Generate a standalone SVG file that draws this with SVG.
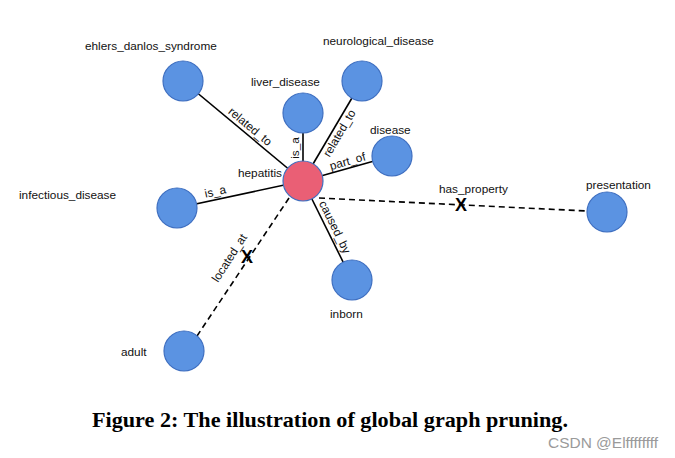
<svg xmlns="http://www.w3.org/2000/svg" width="675" height="458" viewBox="0 0 675 458">
<style>
.n{fill:#5b93e2;stroke:#3f6fc0;stroke-width:1.2}
.h{fill:#ea5f75;stroke:#3f6fc0;stroke-width:1.2}
.t{font-family:"Liberation Sans",Arial,sans-serif;font-size:11.8px;fill:#111}
.e{stroke:#000;stroke-width:1.6;fill:none}
.d{stroke:#000;stroke-width:1.6;fill:none;stroke-dasharray:6,4}
.x{font-family:"Liberation Sans",Arial,sans-serif;font-size:18px;font-weight:bold;fill:#000;text-anchor:middle}
</style>
<rect width="675" height="458" fill="#fff"/>
<g id="connectors">
<line class="e" x1="183" y1="81" x2="303" y2="181"/>
<line class="e" x1="303" y1="113" x2="303" y2="181"/>
<line class="e" x1="362" y1="81" x2="303" y2="181"/>
<line class="e" x1="392" y1="156" x2="303" y2="181"/>
<line class="e" x1="177" y1="208" x2="303" y2="181"/>
<line class="e" x1="303" y1="181" x2="352" y2="280"/>
<line class="d" x1="319" y1="198" x2="587" y2="211"/>
<line class="d" x1="289" y1="198" x2="197" y2="336"/>
<text class="t" text-anchor="middle" transform="translate(245,132.7) rotate(39.8)" y="-4">related_to</text>
<text class="t" text-anchor="middle" transform="translate(303,148) rotate(-90)" y="-4">is_a</text>
<text class="t" text-anchor="middle" transform="translate(333.3,129.6) rotate(-59.5)" y="11">related_to</text>
<text class="t" text-anchor="middle" transform="translate(349.5,168) rotate(-16)" y="-3">part_of</text>
<text class="t" text-anchor="middle" transform="translate(217,199.4) rotate(-12)" y="-4">is_a</text>
<text class="t" text-anchor="middle" transform="translate(327.8,230.6) rotate(63.9)" y="-4">caused_by</text>
<text class="t" text-anchor="middle" transform="translate(242,266) rotate(-57.4)" y="-11">located_at</text>
<text class="t" x="439" y="193">has_property</text>
<text class="x" x="461" y="211">X</text>
<text class="x" x="247" y="263">X</text>
</g>
<g id="ehlers_danlos_syndrome"><circle class="n" cx="183" cy="81" r="20"/><text class="t" x="85" y="50">ehlers_danlos_syndrome</text></g>
<g id="liver_disease"><circle class="n" cx="303" cy="113" r="20"/><text class="t" x="251" y="86">liver_disease</text></g>
<g id="neurological_disease"><circle class="n" cx="362" cy="81" r="20"/><text class="t" x="323" y="45">neurological_disease</text></g>
<g id="disease"><circle class="n" cx="392" cy="156" r="20"/><text class="t" x="370" y="134">disease</text></g>
<g id="infectious_disease"><circle class="n" cx="177" cy="208" r="20"/><text class="t" x="19" y="199">infectious_disease</text></g>
<g id="presentation"><circle class="n" cx="607" cy="212" r="20"/><text class="t" x="586" y="189">presentation</text></g>
<g id="inborn"><circle class="n" cx="352" cy="280" r="20"/><text class="t" x="330" y="318">inborn</text></g>
<g id="adult"><circle class="n" cx="184" cy="351" r="20"/><text class="t" x="121" y="356">adult</text></g>
<g id="hepatitis"><circle class="h" cx="303" cy="181" r="20"/><text class="t" x="238" y="177">hepatitis</text></g>
<text x="92" y="427" font-family="'Liberation Serif',serif" font-weight="bold" font-size="21" textLength="476" lengthAdjust="spacingAndGlyphs" fill="#000">Figure 2: The illustration of global graph pruning.</text>
<text x="548" y="448" font-family="'Liberation Sans',Arial,sans-serif" font-size="14" textLength="110" lengthAdjust="spacingAndGlyphs" fill="#9a9a9a">CSDN @Elffffffff</text>
</svg>
